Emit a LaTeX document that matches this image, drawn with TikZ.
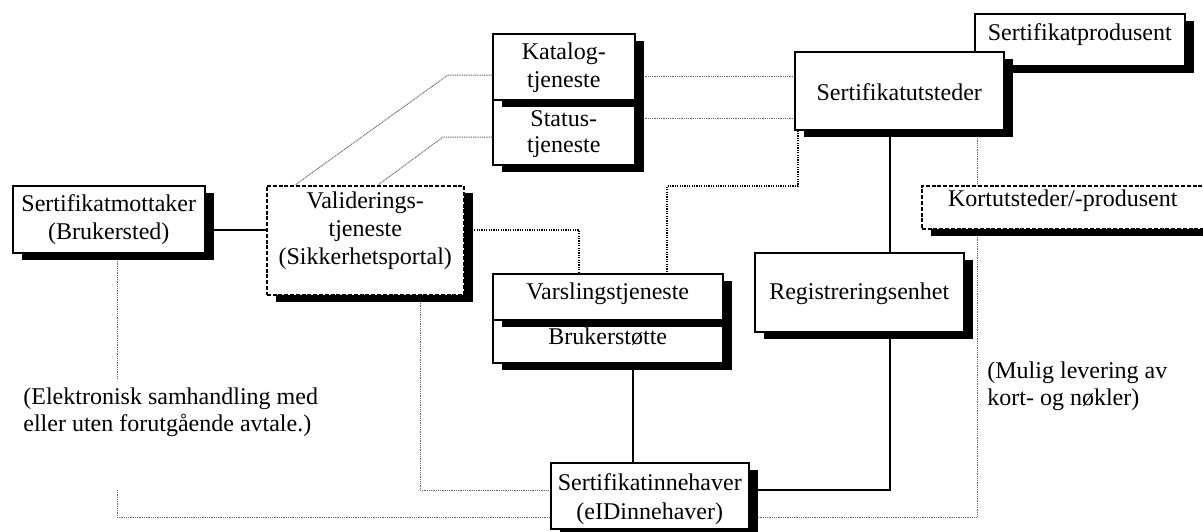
\documentclass[tikz,border=0pt]{standalone}
\usepackage{fontspec}
\setmainfont{Liberation Serif}
\usetikzlibrary{shadows,calc}
\pgfdeclarelayer{background}
\pgfsetlayers{background,main}

\begin{document}
\begin{tikzpicture}[x=0.5pt,y=-0.5pt,
  font=\fontsize{12pt}{14pt}\selectfont,
  box/.style={draw=black, line width=0.75pt, fill=white, inner sep=0pt, anchor=north west,
    general shadow={fill=black, draw=none, solid, shadow xshift=4.5pt, shadow yshift=-3.5pt}},
  dbox/.style={box, dash pattern=on 2pt off 0.9pt},
  sz/.style 2 args={minimum width=#1*0.5pt, minimum height=#2*0.5pt},
  txt/.style={align=center, inner sep=0pt},
  note/.style={align=left, inner sep=0pt, anchor=north west, font=\fontsize{12pt}{13.5pt}\selectfont},
  solidline/.style={line width=0.75pt},
  finedot/.style={black!60, line width=0.5pt, dash pattern=on 0.5pt off 0.4pt},
  heavydot/.style={black, line width=1pt, dash pattern=on 0.6pt off 0.6pt},
]
\useasboundingbox (0,0) rectangle (1203,531);
\clip (0,0) rectangle (1203,531);

% boxes (lower ones first so the shadow of the upper one overlaps)
\node[box, sz={192}{67}] (mot) at (12,185) {};
\node[txt] (mottxt) at ($(mot.center)+(0,0)$) {Sertifikatmottaker\\(Brukersted)};

\node[dbox, sz={197}{109}] (val) at (266,185) {};
\node[txt] (valtxt) at ($(val.center)+(0,-9.5)$) {Validerings-\\tjeneste\\(Sikkerhetsportal)};

\node[box, sz={142}{65}] (stat) at (492,99) {};
\node[txt, font=\fontsize{12pt}{13pt}\selectfont] (stattxt) at ($(stat.center)+(0,2)$) {Status-\\tjeneste};

\node[box, sz={142}{66}] (kat) at (492,33) {};
\node[txt] (kattxt) at ($(kat.center)+(0,1)$) {Katalog-\\tjeneste};

\node[box, sz={210}{52}] (prod) at (974,13) {};
\node[txt] (prodtxt) at ($(prod.center)+(0,-5)$) {Sertifikatprodusent};

\node[box, sz={209}{78}] (sutst) at (794,51) {};
\node[txt] (sutsttxt) at ($(sutst.center)+(0,1)$) {Sertifikatutsteder};

\node[dbox, sz={287}{43}] (kort) at (921,185) {};
\node[txt] (korttxt) at ($(kort.center)+(-2.5,-7)$) {Kortutsteder/-produsent};

\node[box, sz={209}{79}] (reg) at (754,252) {};
\node[txt] (regtxt) at ($(reg.center)+(0,2)$) {Registreringsenhet};

\node[box, sz={230}{43}] (bruk) at (492,319) {};
\node[txt] (bruktxt) at ($(bruk.center)+(0,-4.5)$) {Brukerstøtte};

\node[box, sz={230}{46}] (varsl) at (492,273) {};
\node[txt] (varsltxt) at ($(varsl.center)+(0,-3)$) {Varslingstjeneste};

\node[box, sz={198}{66}] (inneh) at (550,462) {};
\node[txt, font=\fontsize{12pt}{14.5pt}\selectfont] (innehtxt) at ($(inneh.center)+(0,3)$) {Sertifikatinnehaver\\(eIDinnehaver)};

% free notes
\node[note] (elek) at (23,387) {(Elektronisk samhandling med\\eller uten forutgående avtale.)};
\node[note] (mulig) at (987,361) {(Mulig levering av\\kort- og nøkler)};

% connectors behind the boxes
\begin{pgfonlayer}{background}
  \draw[solidline] (mot.east |- 0,230) -- (val.west |- 0,230);
  \draw[solidline] (sutst.south -| 890,0) -- (reg.north -| 890,0);
  \draw[solidline] (reg.south -| 890,0) |- (inneh.east |- 0,490);
  \draw[solidline] (bruk.south -| 633,0) -- (inneh.north -| 633,0);

  \draw[finedot] (kat.west |- 0,75) -- (448,75) -- (val.north -| 295,0);
  \draw[finedot] (stat.west |- 0,137) -- (443,137) -- (val.north -| 378,0);
  \draw[finedot] (kat.east |- 0,76) -- (sutst.west |- 0,76);
  \draw[finedot] (stat.east |- 0,118) -- (sutst.west |- 0,118);
  \draw[finedot] (sutst.south -| 977,0) -- (kort.north -| 977,0);
  \draw[finedot] (kort.south -| 977,0) |- (inneh.east |- 0,517);
  \draw[finedot] (mot.south -| 117,0) -- (117,378) (117,490) |- (inneh.west |- 0,517);
  \draw[finedot] (val.south -| 420,0) |- (inneh.west |- 0,490);

  \draw[heavydot] (sutst.south -| 798,0) -- (798,186) -| (varsl.north -| 667,0);
  \draw[heavydot] (val.east |- 0,230) -| (varsl.north -| 579,0);
\end{pgfonlayer}
\end{tikzpicture}
\end{document}
